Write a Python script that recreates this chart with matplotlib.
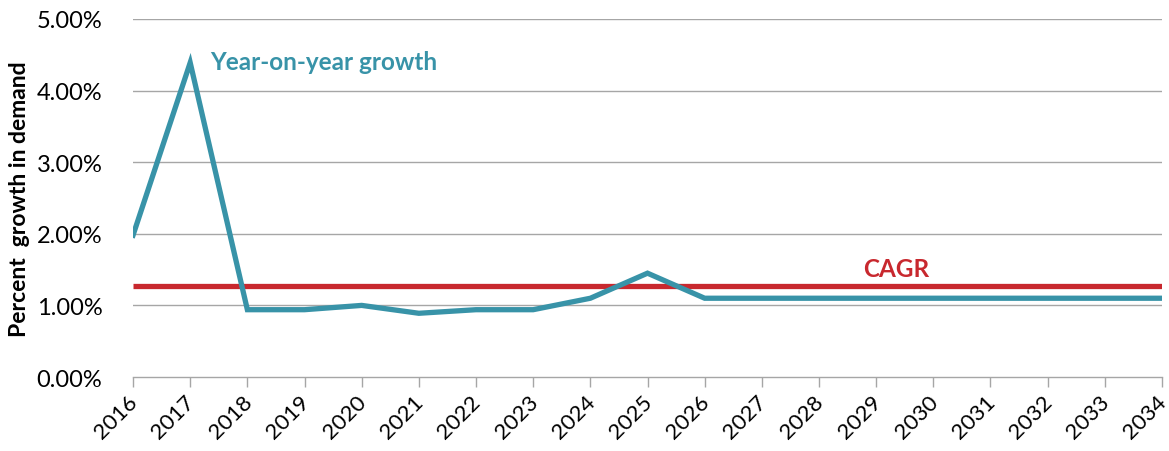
import matplotlib.pyplot as plt
import matplotlib.transforms as mtransforms
from matplotlib.ticker import PercentFormatter

plt.rcParams['font.family'] = ['Lato', 'DejaVu Sans']

years = list(range(2016, 2035))
yoy_growth = [1.98, 4.39, 0.94, 0.94, 1.00, 0.89, 0.94, 0.94, 1.10, 1.45,
              1.10, 1.10, 1.10, 1.10, 1.10, 1.10, 1.10, 1.10, 1.10]
cagr = 1.275
y_ticks = [0, 1, 2, 3, 4, 5]

teal = '#3893a8'
red = '#c8282e'
grid_grey = '#a6a6a6'

fig = plt.figure(figsize=(11.69, 4.52), dpi=100)
ax = fig.add_axes([0.1138, 0.1637, 0.8802, 0.7921])

for t in y_ticks[1:]:
    ax.axhline(t, color=grid_grey, lw=1.0, zorder=1)

ax.plot(years, [cagr] * len(years), color=red, lw=3.8, solid_capstyle='butt', zorder=2)
ax.plot(years, yoy_growth, color=teal, lw=3.8, solid_joinstyle='miter', zorder=3)

ax.text(2017.35, 4.4, 'Year-on-year growth', color=teal, fontsize=17.5,
        fontweight='bold', va='center', ha='left')
ax.text(2029.35, 1.52, 'CAGR', color=red, fontsize=17.5,
        fontweight='bold', va='center', ha='center')

ax.set_xlim(2016, 2034)
ax.set_ylim(0, 5)
ax.set_yticks(y_ticks)
ax.yaxis.set_major_formatter(PercentFormatter(decimals=2))
ax.set_xticks(years)
ax.set_xticklabels([str(y) for y in years], rotation=45, ha='right',
                   rotation_mode='anchor', fontsize=16)
ax.tick_params(axis='y', length=0, labelsize=17, pad=22)
ax.tick_params(axis='x', length=7, color=grid_grey, width=1.0, pad=3)

for s in ['top', 'right', 'left']:
    ax.spines[s].set_visible(False)
ax.spines['bottom'].set_color(grid_grey)
ax.spines['bottom'].set_linewidth(1.0)

ax.set_ylabel('Percent  growth in demand', fontsize=16.5, fontweight='bold', labelpad=5)

# nudge the year labels left so the last one stays inside the figure
fig.canvas.draw()
shift = mtransforms.ScaledTranslation(-4 / 72, 0, fig.dpi_scale_trans)
for tick in ax.xaxis.get_major_ticks():
    tick.label1.set_transform(tick.label1.get_transform() + shift)

fig.savefig('out.png', dpi=100)
